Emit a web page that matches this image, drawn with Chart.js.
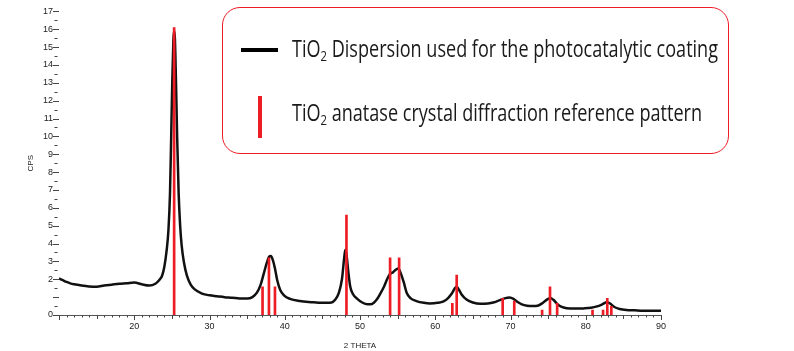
<!DOCTYPE html>
<html>
<head>
<meta charset="utf-8">
<script src="https://cdn.jsdelivr.net/npm/chart.js"></script>
<style>
  body { margin: 0; background: #fff; }
  .main { position: relative; width: 794px; height: 351px; overflow: hidden; background: #fff; }
  .legend_box {
    position: absolute; left: 222px; top: 7px; width: 505px; height: 145px;
    border: 1.5px solid #ee1c24; border-radius: 18px;
  }
  .legend_item { position: absolute; left: 292px; font-family: "Open Sans", sans-serif; font-size: 24px;
    line-height: 24px; color: #1a1a1a; white-space: nowrap; transform-origin: left top; }
  .legend_item sub { font-size: 15px; vertical-align: -4px; line-height: 0; }
  .item0 { top: 36px; }
  .item1 { top: 100px; }
  .sym_line { position: absolute; left: 241px; top: 48px; width: 37px; height: 4px; background: #000; }
  .sym_bar { position: absolute; left: 258px; top: 96px; width: 4px; height: 42px; background: #ee1c24; }
</style>
</head>
<body>
<div class="main">
  <canvas id="myChart" width="794" height="351"></canvas>
  <div class="legend_box"></div>
  <div id="legend"></div>
</div>

<script>
  // measured pattern (2 theta in degrees, intensity in CPS)
  var theta = [10.0, 10.5, 11.0, 11.5, 12.0, 13.0, 14.0, 15.0, 16.0, 17.0, 18.0, 19.0, 20.0, 21.0, 22.0, 22.8,
    23.3, 23.7, 24.0, 24.3, 24.55, 24.75, 24.9, 25.05, 25.2, 25.3, 25.4, 25.55, 25.7, 25.9, 26.1, 26.3, 26.6,
    27.0, 27.5, 28.0, 29.0, 30.0, 31.0, 32.0, 33.0, 34.0, 35.0, 35.7, 36.3, 36.8, 37.2, 37.6, 37.9, 38.15,
    38.4, 38.7, 39.0, 39.4, 39.9, 40.7, 42.0, 43.5, 45.0, 46.0, 46.7, 47.2, 47.6, 47.9, 48.05, 48.2, 48.45,
    48.7, 49.1, 49.6, 50.3, 51.0, 51.6, 52.2, 52.7, 53.2, 53.6, 54.0, 54.4, 54.8, 55.1, 55.4, 55.8, 56.2,
    56.7, 57.5, 58.5, 59.3, 60.3, 61.1, 61.7, 62.2, 62.6, 62.85, 63.1, 63.5, 64.2, 65.0, 66.0, 67.0, 67.7,
    68.5, 69.2, 69.9, 70.4, 70.9, 71.5, 72.2, 73.0, 73.6, 74.2, 74.8, 75.3, 75.7, 76.2, 76.8, 77.5, 78.5,
    79.7, 80.7, 81.5, 82.2, 82.8, 83.2, 83.8, 84.5, 85.4, 86.5, 87.6, 88.5, 90.0];
  var cps = [2.05, 1.95, 1.85, 1.77, 1.72, 1.65, 1.6, 1.58, 1.65, 1.7, 1.75, 1.78, 1.82, 1.72, 1.65, 1.75,
    1.95, 2.2, 2.7, 3.6, 4.8, 6.8, 9.8, 13.0, 15.4, 15.9, 15.5, 13.0, 10.0, 6.8, 5.0, 3.9, 2.95,
    2.2, 1.7, 1.45, 1.2, 1.1, 1.05, 1.0, 0.97, 0.93, 0.92, 1.0, 1.25, 1.7, 2.3, 2.9, 3.25, 3.3,
    3.1, 2.6, 1.95, 1.4, 1.1, 0.9, 0.78, 0.72, 0.68, 0.68, 0.85, 1.25, 2.0, 3.2, 3.65, 3.4, 2.4,
    1.6, 1.15, 0.92, 0.7, 0.6, 0.62, 0.85, 1.2, 1.6, 2.0, 2.3, 2.4, 2.55, 2.6, 2.35, 1.85, 1.25,
    0.95, 0.78, 0.68, 0.65, 0.68, 0.76, 0.95, 1.2, 1.5, 1.58, 1.45, 1.15, 0.85, 0.7, 0.63, 0.65, 0.7,
    0.82, 0.93, 0.98, 0.9, 0.74, 0.6, 0.52, 0.5, 0.52, 0.65, 0.85, 0.95, 0.85, 0.62, 0.45, 0.38, 0.36,
    0.37, 0.4, 0.48, 0.6, 0.72, 0.65, 0.45, 0.34, 0.28, 0.26, 0.24, 0.24, 0.24];

  // anatase reference lines
  var refTheta = [25.3, 37.05, 37.9, 38.7, 48.2, 54.0, 55.2, 62.27, 62.85, 68.96, 70.5, 74.2, 75.25, 76.2,
    80.9, 82.3, 82.86, 83.4];
  var refCps = [16.1, 1.58, 3.2, 1.58, 5.6, 3.2, 3.2, 0.65, 2.23, 0.93, 0.78, 0.28, 1.58, 0.65,
    0.28, 0.28, 0.93, 0.48];

  var xTickLabels = [20, 30, 40, 50, 60, 70, 80, 90];
  var yTickLabels = [0, 2, 3, 4, 5, 6, 7, 8, 9, 10, 11, 12, 13, 14, 15, 16, 17];

  var seriesNames = ['TiO₂ Dispersion used for the photocatalytic coating',
    'TiO₂ anatase crystal diffraction reference pattern'];

  var measured = theta.map(function (t, i) { return { x: t, y: cps[i] }; });
  var reference = refTheta.map(function (t, i) { return { x: t, y: refCps[i] }; });

  // small tick marks like the diffractometer software draws
  var tickMarks = {
    id: 'tickMarks',
    afterDraw: function (chart) {
      var ctx = chart.ctx, x = chart.scales.x, y = chart.scales.y;
      ctx.save();
      ctx.strokeStyle = '#444';
      ctx.lineWidth = 1;
      ctx.beginPath();
      for (var v = 10; v <= 90; v++) {
        var px = Math.round(x.getPixelForValue(v)) + 0.5;
        var len = v % 10 === 0 ? 5 : (v % 5 === 0 ? 4 : 2.5);
        ctx.moveTo(px, x.top);
        ctx.lineTo(px, x.top + len);
      }
      for (var w = 0; w <= 17; w += 0.5) {
        var py = Math.round(y.getPixelForValue(w)) + 0.5;
        if (w % 1 === 0) { ctx.moveTo(y.right - 6, py); ctx.lineTo(y.right, py); }
        else { ctx.moveTo(y.right - 4.5, py); ctx.lineTo(y.right - 1.5, py); }
      }
      ctx.stroke();
      ctx.restore();
    }
  };

  var ctx = document.getElementById('myChart').getContext('2d');
  var myChart = new Chart(ctx, {
    data: {
      datasets: [
        {
          type: 'bar',
          label: seriesNames[1],
          data: reference,
          backgroundColor: '#ee1c24',
          barThickness: 2,
          order: 0,
        },
        {
          type: 'line',
          label: seriesNames[0],
          data: measured,
          borderColor: '#111',
          borderWidth: 2.5,
          pointRadius: 0,
          cubicInterpolationMode: 'monotone',
          order: 1,
        },
      ],
    },
    options: {
      responsive: false,
      animation: false,
      layout: { padding: { left: 26, right: 133, top: 11, bottom: 0 } },
      plugins: { legend: { display: false }, tooltip: { enabled: false } },
      scales: {
        x: {
          type: 'linear',
          min: 10,
          max: 90,
          offset: false,
          grid: { display: false, drawTicks: false },
          border: { display: true, color: '#555', width: 1 },
          ticks: {
            stepSize: 10,
            padding: 6,
            color: '#222',
            font: { family: 'Liberation Sans', size: 9 },
            callback: function (v) { return xTickLabels.indexOf(v) >= 0 ? String(v) : ''; },
          },
          title: { display: true, text: '2 THETA', color: '#222', padding: 0,
            font: { family: 'Liberation Sans', size: 8 } },
          afterFit: function (s) { s.height = 36; },
        },
        y: {
          min: 0,
          max: 17,
          grid: { display: false, drawTicks: false },
          border: { display: false },
          ticks: {
            stepSize: 1,
            autoSkip: false,
            padding: 6,
            color: '#222',
            font: { family: 'Liberation Sans', size: 9 },
            callback: function (v) { return yTickLabels.indexOf(v) >= 0 ? String(v) : ''; },
          },
          title: { display: true, text: 'CPS', color: '#222', padding: 0,
            font: { family: 'Liberation Sans', size: 8 } },
          afterFit: function (s) { s.width = 33; },
        },
      },
    },
    plugins: [tickMarks],
  });

  // html legend built from the datasets
  var legendWidths = [426, 410];
  var legendEl = document.getElementById('legend');
  legendEl.innerHTML = '<div class="sym_line"></div><div class="sym_bar"></div>';
  [1, 0].forEach(function (di, k) {
    var item = document.createElement('div');
    item.className = 'legend_item item' + k;
    item.innerHTML = myChart.data.datasets[di].label.replace('₂', '<sub>2</sub>');
    legendEl.appendChild(item);
    var w = item.getBoundingClientRect().width;
    item.style.transform = 'scaleX(' + (legendWidths[k] / w) + ')';
  });
</script>
</body>
</html>
